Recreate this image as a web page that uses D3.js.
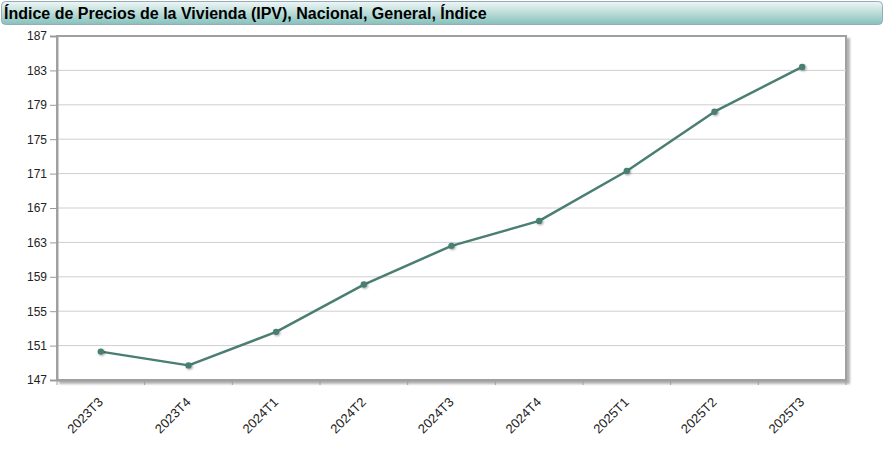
<!DOCTYPE html>
<html><head><meta charset="utf-8">
<script src="https://cdn.jsdelivr.net/npm/d3@7"></script>
<style>
body{margin:0;background:#fff;font-family:"Liberation Sans",Arial,sans-serif;}
</style></head><body>
<svg id="c" width="885" height="449"></svg>
<script>
const title = "Índice de Precios de la Vivienda (IPV), Nacional, General, Índice";
const categories = ["2023T3","2023T4","2024T1","2024T2","2024T3","2024T4","2025T1","2025T2","2025T3"];
const values = [150.3, 148.7, 152.6, 158.1, 162.6, 165.5, 171.3, 178.2, 183.4];
const yTicks = [147,151,155,159,163,167,171,175,179,183,187];

const svg = d3.select("#c");
const defs = svg.append("defs");
const g1 = defs.append("linearGradient").attr("id","tg").attr("x1",0).attr("y1",0).attr("x2",0).attr("y2",1);
g1.append("stop").attr("offset","0%").attr("stop-color","#eef7f6");
g1.append("stop").attr("offset","100%").attr("stop-color","#86c1bb");
const f = defs.append("filter").attr("id","sh").attr("x","-50%").attr("y","-50%").attr("width","200%").attr("height","200%");
f.append("feDropShadow").attr("dx",1).attr("dy",1).attr("stdDeviation",0.8).attr("flood-color","#000").attr("flood-opacity",0.35);
const fb = defs.append("filter").attr("id","bs").attr("x","-5%").attr("y","-5%").attr("width","110%").attr("height","110%");
fb.append("feDropShadow").attr("dx",3).attr("dy",3).attr("stdDeviation",1.2).attr("flood-color","#000").attr("flood-opacity",0.3);

// title bar
svg.append("rect").attr("x",1.5).attr("y",1.5).attr("width",881).attr("height",23).attr("rx",4)
  .attr("fill","url(#tg)").attr("stroke","#9ab").attr("stroke-width",1);
svg.append("text").attr("x",4).attr("y",19).attr("font-size",16).attr("font-weight","bold")
  .attr("fill","#000").text(title);

const m = {l:57, r:846, t:36, b:380};
const x = d3.scaleBand().domain(categories).range([m.l,m.r]);
const y = d3.scaleLinear().domain([147,187]).range([m.b,m.t]);

// plot frame with shadow
svg.append("rect").attr("x",m.l).attr("y",m.t).attr("width",m.r-m.l).attr("height",m.b-m.t)
  .attr("fill","#fff").attr("stroke","#a0a0a0").attr("stroke-width",2).attr("filter","url(#bs)");

// gridlines
svg.append("g").selectAll("line").data(yTicks.filter(d=>d>147&&d<187)).join("line")
  .attr("x1",m.l).attr("x2",m.r).attr("y1",d=>y(d)).attr("y2",d=>y(d))
  .attr("stroke","#cfcfcf").attr("stroke-width",1);

// y axis
const ya = svg.append("g").attr("transform",`translate(${m.l},0)`)
  .call(d3.axisLeft(y).tickValues(yTicks).tickSize(7).tickPadding(3).tickFormat(d3.format("d")));
ya.select(".domain").attr("stroke","#a0a0a0").attr("stroke-width",2);
ya.selectAll(".tick line").attr("stroke","#999");
ya.selectAll("text").attr("font-size",12).attr("fill","#222").attr("font-family","Liberation Sans, Arial, sans-serif");

// x axis
const xa = svg.append("g").attr("transform",`translate(0,${m.b})`)
  .call(d3.axisBottom(x).tickSize(0).tickFormat(d=>d));
xa.select(".domain").attr("stroke","#a0a0a0").attr("stroke-width",2);
xa.selectAll(".tick text").attr("font-size",13).attr("fill","#222")
  .attr("font-family","Liberation Sans, Arial, sans-serif")
  .attr("text-anchor","end").attr("dy",null).attr("y",0)
  .attr("transform","translate(3,23) rotate(-45)");
// tick marks at band edges
const edges = categories.map(c=>x(c)).concat([m.r]);
svg.append("g").selectAll("line").data(edges).join("line")
  .attr("x1",d=>d).attr("x2",d=>d).attr("y1",m.b).attr("y2",m.b+5)
  .attr("stroke","#a0a0a0").attr("stroke-width",1);

// line
const cx = d=>x(d)+x.bandwidth()/2;
const line = d3.line().x((d,i)=>cx(categories[i])).y(d=>y(d));
svg.append("path").datum(values).attr("d",line).attr("fill","none")
  .attr("stroke","#4a7e72").attr("stroke-width",2.5).attr("stroke-linejoin","round");
svg.append("g").selectAll("circle").data(values).join("circle")
  .attr("cx",(d,i)=>cx(categories[i])).attr("cy",d=>y(d)).attr("r",3.2)
  .attr("fill","#4a7e72").attr("filter","url(#sh)");
</script></body></html>
